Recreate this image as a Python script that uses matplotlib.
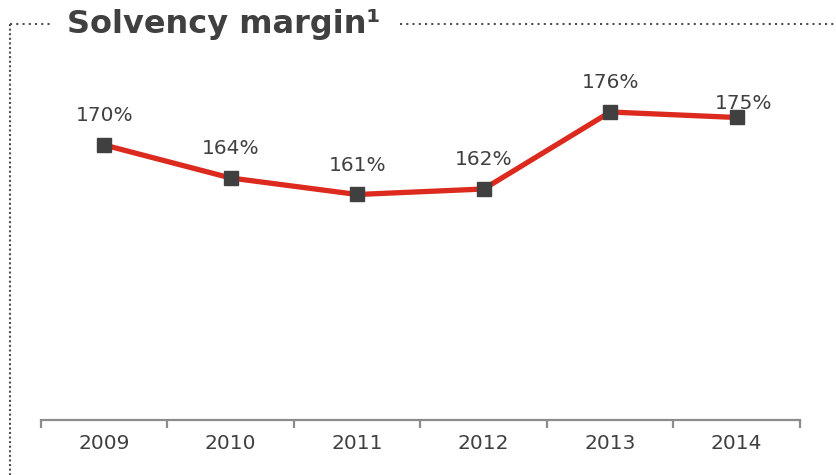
import matplotlib.pyplot as plt
from matplotlib.lines import Line2D

# Solvency margin by year
years = ['2009', '2010', '2011', '2012', '2013', '2014']
margin = [170, 164, 161, 162, 176, 175]
labels = ['170%', '164%', '161%', '162%', '176%', '175%']

text_col = '#404040'
red = '#dc2a1e'

fig = plt.figure(figsize=(8.37, 4.75), dpi=100)
ax = fig.add_axes([41 / 837, 1 - 420 / 475, 759 / 837, 330 / 475])

x = list(range(len(years)))
ax.plot(x, margin, color=red, linewidth=3.8, zorder=2)
ax.plot(x, margin, linestyle='none', marker='s', markersize=9.5,
        color=text_col, zorder=3)

# value labels, the last one sits a bit lower and to the right
offsets = [(0, 21), (0, 21), (0, 21), (0, 21), (0, 21), (5, 10)]
for xi, v, lab, off in zip(x, margin, labels, offsets):
    ax.annotate(lab, (xi, v), xytext=off, textcoords='offset points',
                ha='center', va='center', fontsize=14.5, color=text_col)

ax.set_xlim(-0.5, 5.5)
ax.set_ylim(120, 180)
ax.set_yticks([])
for s in ['top', 'right', 'left']:
    ax.spines[s].set_visible(False)
ax.spines['bottom'].set_color('#8c8c8c')
ax.spines['bottom'].set_linewidth(1.6)

ax.set_xticks(x)
ax.set_xticklabels(years, fontsize=14.5, color=text_col)
ax.tick_params(axis='x', which='major', length=0, pad=10)
ax.set_xticks([i - 0.5 for i in range(len(years) + 1)], minor=True)
ax.tick_params(axis='x', which='minor', length=6, width=1.6, color='#8c8c8c')

# dotted frame around the panel
top = 1 - 24 / 475
dot = dict(color='#505050', linewidth=1.5, linestyle=(0, (1, 2)),
           transform=fig.transFigure)
fig.add_artist(Line2D([10 / 837, 50 / 837], [top, top], **dot))
fig.add_artist(Line2D([400 / 837, 1.0], [top, top], **dot))
fig.add_artist(Line2D([10 / 837, 10 / 837], [top, 0.0], color='#505050',
                      linewidth=1.5, linestyle=(0, (1, 1.2)),
                      transform=fig.transFigure))

fig.text(67 / 837, 1 - 25 / 475, 'Solvency margin\u00b9', fontsize=23,
         fontweight='bold', color=text_col, ha='left', va='center')

fig.savefig('out.png', dpi=100)
